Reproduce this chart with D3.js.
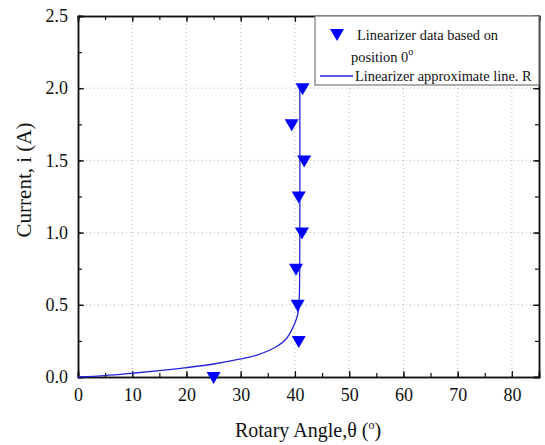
<!DOCTYPE html>
<html>
<head>
<meta charset="utf-8">
<script src="https://cdn.jsdelivr.net/npm/d3@7"></script>
<style>
  body { margin: 0; background: #fff; }
  text { font-family: "Liberation Serif", "Times New Roman", serif; fill: #111; }
</style>
</head>
<body>
<div id="chart"></div>
<script>
// measured points (angle in degrees, current in A)
const dataAngle = [25, 40.7, 40.5, 40.2, 41.3, 40.7, 41.7, 39.4, 41.4]
const dataCurrent = [0, 0.25, 0.5, 0.75, 1.0, 1.25, 1.5, 1.75, 2.0]

// approximate line
const lineAngle = [0, 5, 10, 15, 20, 25, 30, 33, 35.4, 37, 38.2, 39.4, 40.2, 40.6, 40.8, 40.9, 40.9]
const lineCurrent = [0, 0.01, 0.026, 0.044, 0.065, 0.09, 0.125, 0.152, 0.187, 0.22, 0.256, 0.325, 0.395, 0.45, 0.55, 1.0, 2.0]

const xTicks = [0, 10, 20, 30, 40, 50, 60, 70, 80]
const yTicks = [0, 0.5, 1.0, 1.5, 2.0, 2.5]

const W = 545, H = 445
const pLeft = 78, pRight = 539, pTop = 16, pBottom = 377
const serif = "Liberation Serif, Times New Roman, serif"

const svg = d3.select("#chart").append("svg")
    .attr("width", W)
    .attr("height", H)

const x = d3.scaleLinear().domain([0, 85]).range([pLeft, pRight])
const y = d3.scaleLinear().domain([0, 2.5]).range([pBottom, pTop])

// grid
const grid = svg.append("g")
    .attr("stroke", "#b8b8b8")
    .attr("stroke-width", 1)
    .attr("stroke-dasharray", "1,3")
grid.selectAll("line.gx")
    .data(xTicks.filter(d => d > 0))
    .join("line").attr("class", "gx")
    .attr("x1", d => x(d)).attr("x2", d => x(d))
    .attr("y1", pTop).attr("y2", pBottom)
grid.selectAll("line.gy")
    .data(yTicks.filter(d => d > 0 && d < 2.5))
    .join("line").attr("class", "gy")
    .attr("x1", pLeft).attr("x2", pRight)
    .attr("y1", d => y(d)).attr("y2", d => y(d))

// axes, ticks pointing inward on all four sides
const xMinor = d3.range(0, 86, 5)
const yMinor = d3.range(0, 2.51, 0.25)

let addAxis = function (axis, tx, ty) {
    return svg.append("g")
        .attr("transform", `translate(${tx},${ty})`)
        .call(axis)
        .attr("font-family", serif)
        .attr("font-size", 18)
}

addAxis(d3.axisBottom(x).tickValues(xMinor).tickSize(-4).tickFormat(""), 0, pBottom)
addAxis(d3.axisBottom(x).tickValues(xTicks).tickSize(-6).tickPadding(11).tickFormat(d3.format("d")), 0, pBottom)
addAxis(d3.axisTop(x).tickValues(xMinor).tickSize(-4).tickFormat(""), 0, pTop)
addAxis(d3.axisTop(x).tickValues(xTicks).tickSize(-6).tickFormat(""), 0, pTop)

addAxis(d3.axisLeft(y).tickValues(yMinor).tickSize(-4).tickFormat(""), pLeft, 0)
addAxis(d3.axisLeft(y).tickValues(yTicks).tickSize(-6).tickPadding(10).tickFormat(d3.format(".1f")), pLeft, 0)
addAxis(d3.axisRight(y).tickValues(yMinor).tickSize(-4).tickFormat(""), pRight, 0)
addAxis(d3.axisRight(y).tickValues(yTicks).tickSize(-6).tickFormat(""), pRight, 0)

svg.selectAll(".domain").attr("stroke", "#111").attr("stroke-width", 1.5)
svg.selectAll(".tick line").attr("stroke", "#111").attr("stroke-width", 1.2)
svg.selectAll(".tick text").attr("fill", "#111")

// approximate line
const pts = lineAngle.map((a, i) => [a, lineCurrent[i]])
const lineGen = d3.line()
    .x(d => x(d[0]))
    .y(d => y(d[1]))
    .curve(d3.curveCatmullRom.alpha(0.5))
svg.append("path")
    .datum(pts)
    .attr("fill", "none")
    .attr("stroke", "#2424d8")
    .attr("stroke-width", 1.3)
    .attr("d", lineGen)

// down triangles
const tri = "M-7,-5L7,-5L0,7Z"
svg.append("g").selectAll("path")
    .data(dataAngle.map((a, i) => [a, dataCurrent[i]]))
    .join("path")
    .attr("d", tri)
    .attr("fill", "#0000ff")
    .attr("transform", d => `translate(${x(d[0])},${y(d[1])})`)

// legend
const lg = svg.append("g")
lg.append("rect")
    .attr("x", 315).attr("y", pTop)
    .attr("width", pRight - 315).attr("height", 69)
    .attr("fill", "#fff")
    .attr("stroke", "#777")
    .attr("stroke-width", 1.2)
lg.append("path").attr("d", tri).attr("fill", "#0000ff")
    .attr("transform", "translate(337,34)")
lg.append("text").attr("x", 357).attr("y", 40)
    .style("font-size", "14.4px").text("Linearizer data based on")
const l2 = lg.append("text").attr("x", 351).attr("y", 62).style("font-size", "14.4px")
l2.append("tspan").text("position 0")
l2.append("tspan").attr("dy", -7).style("font-size", "10px").text("o")
lg.append("line").attr("x1", 320).attr("x2", 353).attr("y1", 76).attr("y2", 76)
    .attr("stroke", "#2424d8").attr("stroke-width", 1.3)
lg.append("text").attr("x", 355).attr("y", 81)
    .style("font-size", "14.4px").text("Linearizer approximate line. R")

// axis titles
const xt = svg.append("text")
    .attr("x", 308).attr("y", 437)
    .attr("text-anchor", "middle")
    .style("font-size", "20px")
xt.append("tspan").text("Rotary Angle,θ (")
xt.append("tspan").attr("dy", -8).style("font-size", "12px").text("o")
xt.append("tspan").attr("dy", 8).text(")")

svg.append("text")
    .attr("transform", "translate(31,180) rotate(-90)")
    .attr("text-anchor", "middle")
    .style("font-size", "21px")
    .text("Current, i (A)")
</script>
</body>
</html>
